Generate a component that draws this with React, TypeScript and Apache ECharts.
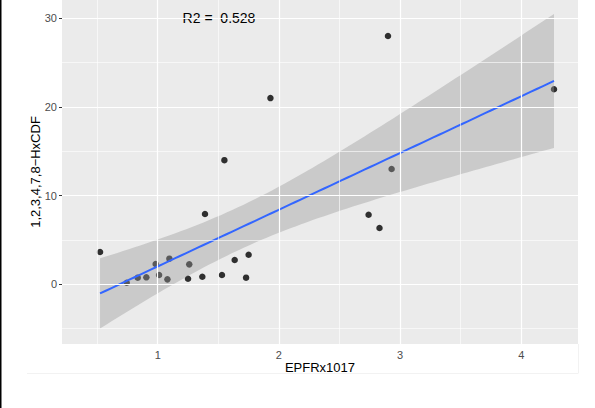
import React, { useEffect, useRef } from "react";
import * as echarts from "echarts";

// Data
const epfr: number[] = [
  0.524, 0.744, 0.835, 0.906, 0.983, 1.011, 1.08, 1.096, 1.25, 1.26, 1.368, 1.53,
  1.635, 1.729, 1.75, 1.39, 1.55, 1.93, 2.9, 4.27, 2.93, 2.74, 2.83,
];
const hxcdf: number[] = [
  3.64, 0.18, 0.75, 0.79, 2.29, 1.05, 0.56, 2.89, 0.63, 2.25, 0.86, 1.05,
  2.74, 0.75, 3.34, 7.93, 14.0, 21.0, 28.0, 22.0, 13.0, 7.85, 6.35,
];
const xTicks: number[] = [1, 2, 3, 4];
const xMinorGrid: number[] = [0.5, 1.5, 2.5, 3.5];
const yTicks: number[] = [0, 10, 20, 30];
const yMinorGrid: number[] = [-5, 5, 15, 25];
const r2Label = "R2 =  0.528";
const xTitle = "EPFRx1017";
const yTitle = "1,2,3,4,7,8\u2212HxCDF";

// Linear model (lm) with 95% confidence band, as geom_smooth(method = "lm")
function fitLm(xs: number[], ys: number[]) {
  const n = xs.length;
  const mx = xs.reduce((a, b) => a + b, 0) / n;
  const my = ys.reduce((a, b) => a + b, 0) / n;
  let sxx = 0, sxy = 0;
  for (let i = 0; i < n; i++) {
    sxx += (xs[i] - mx) ** 2;
    sxy += (xs[i] - mx) * (ys[i] - my);
  }
  const b = sxy / sxx;
  const a = my - b * mx;
  let sse = 0;
  for (let i = 0; i < n; i++) sse += (ys[i] - (a + b * xs[i])) ** 2;
  const s = Math.sqrt(sse / (n - 2));
  const t = 2.0796; // qt(0.975, 21)
  const lo = Math.min(...xs), hi = Math.max(...xs);
  const line: number[][] = [], upper: number[][] = [], lower: number[][] = [];
  const steps = 80;
  for (let k = 0; k < steps; k++) {
    const x = lo + ((hi - lo) * k) / (steps - 1);
    const f = a + b * x;
    const se = s * Math.sqrt(1 / n + (x - mx) ** 2 / sxx);
    line.push([x, f]);
    upper.push([x, f + t * se]);
    lower.push([x, f - t * se]);
  }
  return { line, upper, lower };
}

export default function App() {
  const ref = useRef<HTMLDivElement>(null);
  useEffect(() => {
    if (!ref.current) return;
    const chart = echarts.init(ref.current, null, { renderer: "svg" });
    const fit = fitLm(epfr, hxcdf);
    const font = "'Liberation Sans', Arial, Helvetica, sans-serif";
    const gridLines: any[] = [
      ...xMinorGrid.map((v) => ({ xAxis: v, lineStyle: { width: 0.6 } })),
      ...xTicks.map((v) => ({ xAxis: v, lineStyle: { width: 1.2 } })),
      ...yMinorGrid.map((v) => ({ yAxis: v, lineStyle: { width: 0.6 } })),
      ...yTicks.map((v) => ({ yAxis: v, lineStyle: { width: 1.2 } })),
    ];
    chart.setOption({
      animation: false,
      backgroundColor: "#ffffff",
      textStyle: { fontFamily: font },
      grid: {
        left: 62,
        right: 17,
        top: 0,
        bottom: 64,
        show: true,
        backgroundColor: "#EBEBEB",
        borderWidth: 0,
      },
      xAxis: {
        type: "value",
        min: 0.21,
        max: 4.468,
        name: xTitle,
        nameLocation: "middle",
        nameGap: 17,
        nameMoveOverlap: false,
        nameTextStyle: { color: "#000000", fontSize: 13, fontFamily: font },
        axisLine: { show: false },
        splitLine: { show: false },
        axisTick: {
          show: true,
          customValues: xTicks,
          length: 3,
          lineStyle: { color: "#333333", width: 1 },
        },
        axisLabel: {
          customValues: xTicks,
          color: "#4D4D4D",
          fontSize: 11,
          margin: 5,
          fontFamily: font,
        },
      },
      yAxis: {
        type: "value",
        min: -6.73,
        max: 32.06,
        name: yTitle,
        nameLocation: "middle",
        nameGap: 20,
        nameMoveOverlap: false,
        nameTextStyle: { color: "#000000", fontSize: 13, fontFamily: font },
        axisLine: { show: false },
        splitLine: { show: false },
        axisTick: {
          show: true,
          customValues: yTicks,
          length: 3,
          lineStyle: { color: "#333333", width: 1 },
        },
        axisLabel: {
          customValues: yTicks,
          color: "#4D4D4D",
          fontSize: 11,
          margin: 5,
          fontFamily: font,
        },
      },
      series: [
        {
          type: "line",
          data: [],
          z: 1,
          silent: true,
          markLine: {
            silent: true,
            symbol: ["none", "none"],
            label: { show: false },
            lineStyle: { color: "#FFFFFF", type: "solid", width: 1.2 },
            emphasis: { disabled: true },
            data: gridLines,
          },
        },
        {
          type: "scatter",
          z: 2,
          data: epfr.map((x, i) => [x, hxcdf[i]]),
          symbolSize: 6.5,
          itemStyle: { color: "#000000" },
        },
        {
          type: "custom",
          z: 3,
          silent: true,
          data: [[epfr[0], hxcdf[0]]],
          renderItem: (_params: any, api: any) => {
            const pts = fit.upper
              .map((p) => api.coord(p))
              .concat(fit.lower.slice().reverse().map((p) => api.coord(p)));
            return {
              type: "polygon",
              shape: { points: pts },
              style: { fill: "#999999", opacity: 0.4 },
            };
          },
        },
        {
          type: "line",
          z: 4,
          data: fit.line,
          showSymbol: false,
          smooth: false,
          lineStyle: { color: "#3366FF", width: 2 },
        },
      ],
      graphic: [
        {
          type: "rect",
          left: 0,
          top: 0,
          shape: { width: 1.5, height: 408 },
          style: { fill: "#000000" },
        },
        {
          type: "line",
          shape: { x1: 27, y1: 373.5, x2: 578, y2: 373.5 },
          style: { stroke: "#F2F2F2", lineWidth: 1 },
        },
        {
          type: "line",
          shape: { x1: 578.5, y1: 344, x2: 578.5, y2: 373.5 },
          style: { stroke: "#F2F2F2", lineWidth: 1 },
        },
        {
          type: "text",
          x: 219,
          y: 18,
          style: {
            text: r2Label,
            fill: "#000000",
            fontSize: 14,
            fontFamily: font,
            align: "center",
            verticalAlign: "middle",
          },
        },
      ],
    });
    return () => chart.dispose();
  }, []);
  return (
    <div
      ref={ref}
      style={{ position: "absolute", left: 0, top: 0, width: 595, height: 408 }}
    />
  );
}
